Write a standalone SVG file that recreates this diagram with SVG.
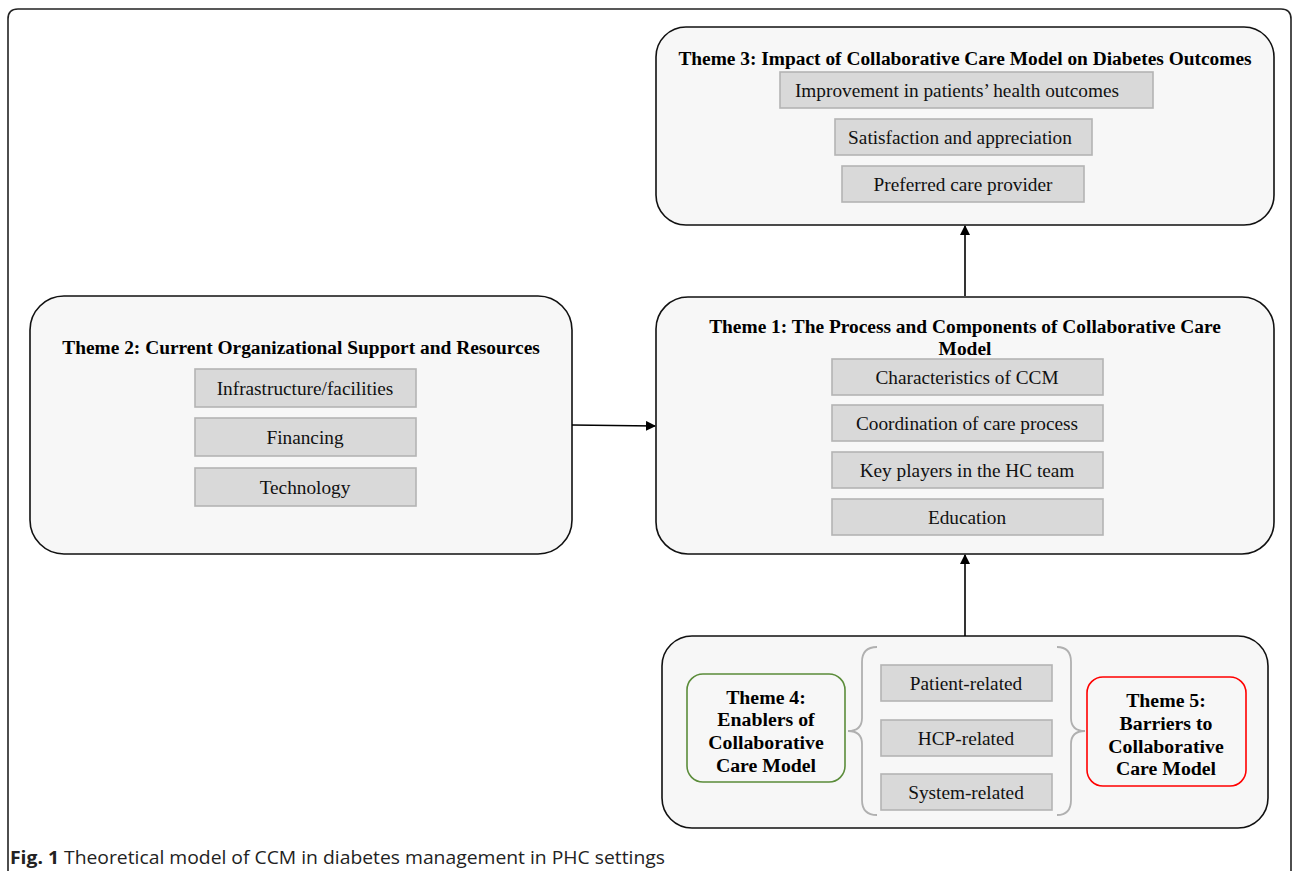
<svg xmlns="http://www.w3.org/2000/svg" width="1292" height="871" viewBox="0 0 1292 871">
<defs>
<style>
.frame{fill:#fff;stroke:#222;stroke-width:1.6}
.theme{fill:#f7f7f7;stroke:#111;stroke-width:1.6}
.sub{fill:#d9d9d9;stroke:#b3b3b3;stroke-width:1.6}
.ttl{font-family:"Liberation Serif","Times New Roman",serif;font-weight:bold;font-size:19.4px;fill:#000;text-anchor:middle}
.ttl2{font-family:"Liberation Serif","Times New Roman",serif;font-weight:bold;font-size:19.8px;fill:#000;text-anchor:middle}
.txt{font-family:"Liberation Serif","Times New Roman",serif;font-size:19.3px;fill:#111;text-anchor:middle}
.brace{fill:none;stroke:#b0b0b0;stroke-width:1.8}
.conn{stroke:#000;stroke-width:1.6;fill:none}
.cap{font-family:"Open Sans","Liberation Sans",sans-serif;font-size:18.5px;fill:#222}
</style>
<marker id="ah" markerWidth="10" markerHeight="10" refX="9" refY="5" orient="auto" markerUnits="userSpaceOnUse">
<path d="M0,0 L10,5 L0,10 Z" fill="#000"/>
</marker>
</defs>
<rect x="0" y="0" width="1292" height="871" fill="#fff"/>
<path class="frame" d="M8,880 L8,19 Q8,9 18,9 L1281,9 Q1291,9 1291,19 L1291,880"/>

<g id="theme3">
<rect class="theme" x="656" y="27" width="618" height="198" rx="30"/>
<text class="ttl" x="965" y="65">Theme 3: Impact of Collaborative Care Model on Diabetes Outcomes</text>
<rect class="sub" x="780" y="72" width="373" height="36"/>
<text class="txt" x="957" y="97">Improvement in patients’ health outcomes</text>
<rect class="sub" x="835" y="119" width="257" height="36"/>
<text class="txt" x="960" y="144">Satisfaction and appreciation</text>
<rect class="sub" x="842" y="166" width="242" height="36"/>
<text class="txt" x="963" y="191">Preferred care provider</text>
</g>

<g id="theme1">
<rect class="theme" x="656" y="297" width="618" height="257" rx="32"/>
<text class="ttl" x="965" y="333">Theme 1: The Process and Components of Collaborative Care</text>
<text class="ttl" x="965" y="355">Model</text>
<rect class="sub" x="832" y="359" width="271" height="36"/>
<text class="txt" x="967" y="384">Characteristics of CCM</text>
<rect class="sub" x="832" y="405" width="271" height="36"/>
<text class="txt" x="967" y="430">Coordination of care process</text>
<rect class="sub" x="832" y="452" width="271" height="36"/>
<text class="txt" x="967" y="477">Key players in the HC team</text>
<rect class="sub" x="832" y="499" width="271" height="36"/>
<text class="txt" x="967" y="524">Education</text>
</g>

<g id="theme2">
<rect class="theme" x="30" y="296" width="542" height="258" rx="34"/>
<text class="ttl" x="301" y="354">Theme 2: Current Organizational Support and Resources</text>
<rect class="sub" x="195" y="369" width="221" height="38"/>
<text class="txt" x="305" y="395">Infrastructure/facilities</text>
<rect class="sub" x="195" y="418" width="221" height="38"/>
<text class="txt" x="305" y="444">Financing</text>
<rect class="sub" x="195" y="468" width="221" height="38"/>
<text class="txt" x="305" y="494">Technology</text>
</g>

<g id="themes45">
<rect class="theme" x="662" y="636" width="606" height="192" rx="30"/>
<g id="theme4">
<rect x="687" y="674" width="158" height="108" rx="16" fill="#f7f7f7" stroke="#5b8c3a" stroke-width="1.6"/>
<text class="ttl2" x="766" y="704">Theme 4:</text>
<text class="ttl2" x="766" y="726">Enablers of</text>
<text class="ttl2" x="766" y="749">Collaborative</text>
<text class="ttl2" x="766" y="772">Care Model</text>
</g>
<g id="theme5">
<rect x="1087" y="677" width="159" height="109" rx="16" fill="#f7f7f7" stroke="#ff0000" stroke-width="1.6"/>
<text class="ttl2" x="1166" y="707">Theme 5:</text>
<text class="ttl2" x="1166" y="730">Barriers to</text>
<text class="ttl2" x="1166" y="753">Collaborative</text>
<text class="ttl2" x="1166" y="775">Care Model</text>
</g>
<g id="factors">
<rect class="sub" x="881" y="665" width="171" height="36"/>
<text class="txt" x="966" y="690">Patient-related</text>
<rect class="sub" x="881" y="720" width="171" height="36"/>
<text class="txt" x="966" y="745">HCP-related</text>
<rect class="sub" x="881" y="774" width="171" height="36"/>
<text class="txt" x="966" y="799">System-related</text>
</g>
<path class="brace" d="M877,647 Q862,647 862,662 L862,718 Q862,731 848,731 Q862,731 862,744 L862,800 Q862,815 877,815"/>
<path class="brace" d="M1057,647 Q1071,647 1071,662 L1071,718 Q1071,731 1085,731 Q1071,731 1071,744 L1071,800 Q1071,815 1057,815"/>
</g>

<g id="connectors">
<line class="conn" x1="965" y1="296" x2="965" y2="226" marker-end="url(#ah)"/>
<line class="conn" x1="572" y1="425" x2="655" y2="426" marker-end="url(#ah)"/>
<line class="conn" x1="965" y1="636" x2="965" y2="555" marker-end="url(#ah)"/>
</g>

<text class="cap" x="10" y="864" textLength="655" lengthAdjust="spacingAndGlyphs"><tspan font-weight="bold">Fig. 1</tspan> Theoretical model of CCM in diabetes management in PHC settings</text>
</svg>
